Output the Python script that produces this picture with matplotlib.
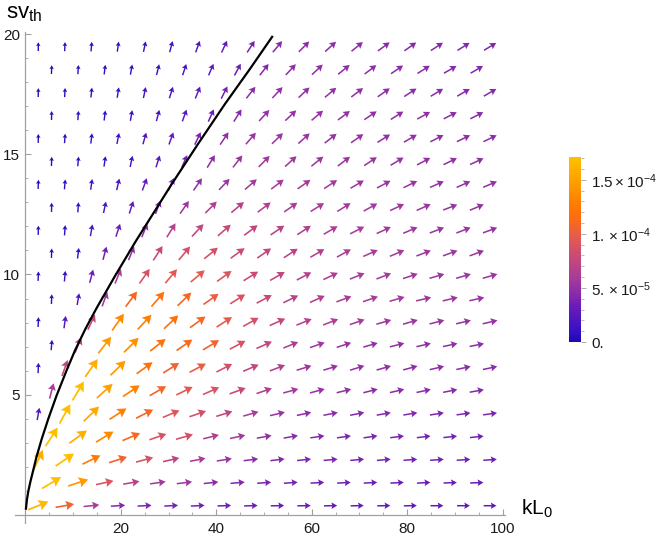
import numpy as np
import matplotlib.pyplot as plt
from matplotlib.colors import LinearSegmentedColormap, Normalize
from matplotlib.cm import ScalarMappable
from matplotlib.ticker import MultipleLocator, FixedLocator

plt.rcParams['font.family'] = ['Liberation Sans', 'DejaVu Sans']
plt.rcParams['mathtext.fontset'] = 'custom'
plt.rcParams['mathtext.rm'] = 'Liberation Sans'
plt.rcParams['mathtext.it'] = 'Liberation Sans'

# sample grid (staggered rows, like Mathematica's VectorPoints)
y_rows = 0.37 + 0.956 * np.arange(21)
x_even = 2.68 + 5.57 * np.arange(18)
x_odd = 5.47 + 5.57 * np.arange(17)

# arrow direction on screen (deg) and magnitude (x1e-5), row by row from the bottom
a00 = [22, 10, 6, 4, 3, 3, 3, 2, 2, 1, 1, 1, 1, 1, 1, 0, 0, 0]
m00 = [16.5, 10.5, 6.0, 4.2, 3.9, 3.7, 3.6, 3.5, 3.4, 3.3, 3.2, 3.1, 3.0, 2.9, 2.9, 2.8, 2.8, 2.7]
a01 = [31, 18, 12, 10, 8, 7, 6, 5, 4, 4, 3, 3, 3, 3, 3, 2, 2]
m01 = [17.0, 14.5, 9.0, 7.0, 5.8, 5.5, 4.6, 4.2, 3.9, 3.7, 3.6, 3.5, 3.4, 3.3, 3.3, 3.2, 3.2]
a02 = [65, 34, 26, 18, 15, 13, 11, 9, 7, 7, 6, 5, 5, 5, 4, 4, 4, 4]
m02 = [16.0, 17.0, 12.5, 10.5, 8.8, 7.2, 6.0, 5.3, 4.6, 4.2, 4.0, 3.9, 3.8, 3.7, 3.6, 3.5, 3.5, 3.4]
a03 = [57, 36, 31, 23, 19, 16, 14, 12, 10, 10, 8, 8, 8, 7, 7, 6, 6]
m03 = [17.0, 16.0, 13.5, 11.0, 8.8, 8.5, 6.5, 5.8, 5.0, 4.5, 4.2, 4.0, 3.9, 3.8, 3.7, 3.6, 3.6]
a04 = [80, 61, 44, 33, 27, 23, 19, 17, 16, 13, 12, 11, 11, 10, 9, 9, 8, 8]
m04 = [2.5, 17.0, 15.5, 13.0, 11.0, 9.2, 8.5, 7.4, 6.0, 5.3, 4.6, 4.5, 4.3, 4.2, 4.1, 4.0, 3.9, 3.9]
a05 = [75, 59, 42, 34, 30, 26, 24, 20, 19, 15, 15, 14, 14, 13, 12, 11, 10]
m05 = [6.0, 17.0, 15.0, 13.0, 10.8, 9.5, 8.8, 7.8, 6.5, 5.8, 5.2, 5.0, 4.7, 4.6, 4.5, 4.4, 4.3]
a06 = [88, 70, 55, 44, 36, 32, 28, 27, 23, 21, 17, 17, 17, 16, 15, 13, 12, 12]
m06 = [1.0, 7.5, 16.0, 14.5, 12.0, 10.5, 10.0, 8.6, 7.4, 6.5, 5.6, 5.2, 5.0, 4.9, 4.8, 4.7, 4.6, 4.5]
a07 = [85, 68, 52, 45, 38, 35, 31, 28, 24, 22, 19, 18, 16, 14, 13, 12, 11]
m07 = [1.0, 7.0, 14.5, 14.0, 12.0, 11.2, 10.5, 8.8, 7.5, 6.2, 5.6, 5.2, 5.0, 4.9, 4.8, 4.7, 4.6]
a08 = [88, 82, 65, 55, 47, 43, 36, 33, 29, 24, 22, 21, 19, 16, 16, 14, 13, 13]
m08 = [0.8, 2.5, 7.5, 13.5, 13.0, 12.0, 11.0, 9.8, 8.6, 7.6, 6.8, 6.4, 5.8, 5.6, 5.4, 5.3, 5.2, 5.1]
a09 = [88, 80, 70, 53, 49, 44, 35, 32, 28, 26, 24, 20, 19, 16, 13, 13, 12]
m09 = [0.7, 2.0, 5.5, 11.0, 12.0, 11.0, 10.0, 8.8, 7.8, 7.0, 6.5, 6.2, 6.0, 5.8, 5.6, 5.5, 5.4]
a10 = [88, 85, 75, 68, 55, 50, 40, 36, 32, 30, 28, 25, 22, 21, 18, 16, 16, 16]
m10 = [0.6, 1.2, 3.5, 6.0, 8.8, 9.5, 9.6, 9.0, 8.0, 7.5, 6.8, 6.3, 6.0, 5.8, 5.6, 5.5, 5.4, 5.3]
a11 = [88, 83, 75, 68, 57, 50, 39, 36, 35, 33, 30, 29, 24, 23, 21, 20, 20]
m11 = [0.6, 1.2, 3.5, 4.8, 7.8, 8.6, 8.6, 8.0, 7.5, 7.0, 6.5, 6.2, 6.0, 5.8, 5.6, 5.4, 5.3]
a12 = [89, 86, 80, 72, 68, 58, 47, 41, 37, 34, 33, 30, 27, 25, 23, 21, 21, 20]
m12 = [0.5, 1.0, 2.0, 3.5, 4.8, 6.8, 7.5, 7.8, 7.4, 7.0, 6.6, 6.3, 6.0, 5.8, 5.6, 5.4, 5.3, 5.2]
a13 = [89, 86, 78, 72, 70, 55, 45, 40, 37, 35, 32, 32, 29, 25, 24, 21, 23]
m13 = [0.5, 0.9, 1.8, 3.0, 3.8, 5.5, 6.6, 6.9, 6.6, 6.3, 6.1, 5.9, 5.7, 5.5, 5.4, 5.2, 5.1]
a14 = [88, 85, 82, 77, 70, 65, 55, 46, 41, 37, 35, 33, 30, 28, 26, 24, 24, 23]
m14 = [0.5, 0.8, 1.3, 2.0, 3.0, 3.8, 4.8, 5.4, 5.8, 5.9, 5.8, 5.7, 5.5, 5.4, 5.3, 5.1, 5.0, 4.9]
a15 = [88, 85, 82, 78, 72, 66, 58, 52, 45, 42, 39, 37, 34, 31, 28, 26, 25]
m15 = [0.5, 0.7, 1.1, 1.7, 2.4, 3.5, 4.6, 5.3, 5.6, 5.6, 5.5, 5.4, 5.3, 5.1, 5.0, 4.9, 4.8]
a16 = [89, 86, 83, 79, 74, 70, 64, 56, 49, 44, 42, 38, 35, 32, 30, 27, 26, 26]
m16 = [0.4, 0.6, 1.0, 1.5, 2.1, 2.8, 3.8, 4.9, 5.3, 5.4, 5.3, 5.2, 5.1, 5.0, 4.9, 4.8, 4.7, 4.6]
a17 = [89, 86, 83, 80, 75, 70, 66, 58, 47, 43, 40, 37, 34, 32, 29, 27, 27]
m17 = [0.4, 0.55, 0.9, 1.3, 1.8, 2.5, 3.3, 4.4, 5.0, 5.1, 5.1, 5.0, 4.9, 4.8, 4.7, 4.6, 4.5]
a18 = [89, 87, 84, 81, 78, 73, 68, 63, 52, 47, 43, 40, 37, 35, 33, 31, 30, 30]
m18 = [0.4, 0.5, 0.8, 1.1, 1.5, 2.1, 2.8, 3.6, 4.6, 4.9, 4.9, 4.9, 4.8, 4.7, 4.6, 4.5, 4.4, 4.4]
a19 = [88, 86, 83, 80, 76, 72, 67, 62, 52, 47, 43, 39, 37, 34, 32, 30, 30]
m19 = [0.35, 0.5, 0.7, 1.0, 1.4, 1.9, 2.5, 3.2, 4.2, 4.7, 4.8, 4.8, 4.7, 4.6, 4.5, 4.4, 4.3]
a20 = [90, 88, 85, 82, 78, 75, 70, 65, 57, 50, 45, 42, 39, 36, 35, 33, 32, 31]
m20 = [0.35, 0.45, 0.65, 0.9, 1.2, 1.7, 2.2, 2.9, 3.7, 4.4, 4.6, 4.7, 4.6, 4.5, 4.4, 4.3, 4.2, 4.2]

angle_rows = [a00, a01, a02, a03, a04, a05, a06, a07, a08, a09, a10,
              a11, a12, a13, a14, a15, a16, a17, a18, a19, a20]
mag_rows = [m00, m01, m02, m03, m04, m05, m06, m07, m08, m09, m10,
            m11, m12, m13, m14, m15, m16, m17, m18, m19, m20]

# black threshold curve
curve_x = [0.1, 0.3, 0.6, 1.0, 1.5, 2.3, 3.4, 4.8, 6.5, 8.6, 10.4, 12.6, 14.9, 18.8,
           23.0, 26.8, 30.6, 36.2, 41.8, 47.0, 51.7]
curve_y = [0.25, 0.62, 0.98, 1.35, 1.75, 2.40, 3.15, 4.0, 4.95, 6.0, 6.85, 7.75, 8.6, 9.95,
           11.35, 12.55, 13.75, 15.45, 17.1, 18.55, 19.9]

mag_max = 17.1
cbar_ticks = [0, 5, 10, 15]
cbar_labels = ['0.', r'$\mathregular{5.\times10^{-5}}$', r'$\mathregular{1.\times10^{-4}}$',
               r'$\mathregular{1.5\times10^{-4}}$']

cmap = LinearSegmentedColormap.from_list('mma', [
    (0.0, '#1c0ab0'), (0.05, '#3210c4'), (0.12, '#4e16c0'), (0.19, '#6a1cb8'), (0.263, '#8a2ca8'),
    (0.35, '#a83c98'), (0.456, '#c84878'), (0.556, '#e05a55'), (0.67, '#ff6a10'),
    (0.76, '#ff8000'), (0.85, '#ff9a00'), (0.94, '#ffb000'), (1.0, '#ffc000')])
norm = Normalize(0, mag_max)

fig = plt.figure(figsize=(6.59, 5.37), dpi=100)
ax = fig.add_axes([15 / 659, 14 / 537, 490 / 659, 491 / 537])
ax.set_xlim(-2.2, 100.5)
ax.set_ylim(-0.35, 20.1)

for j, y in enumerate(y_rows):
    xs = x_even if j % 2 == 0 else x_odd
    for x, a, m in zip(xs, angle_rows[j], mag_rows[j]):
        L = 6.5 + 3.8 * np.sqrt(m)   # arrow length in pixels
        th = np.deg2rad(a)
        w = 1.1 + 0.03 * L
        ax.quiver(x, y, L * np.cos(th), L * np.sin(th), color=cmap(norm(m)),
                  angles='uv', scale_units='dots', scale=1, units='dots',
                  pivot='middle', width=w, headwidth=0.5 * L / w,
                  headlength=0.44 * L / w, headaxislength=0.38 * L / w, zorder=2)

ax.plot(curve_x, curve_y, color='black', lw=1.6, zorder=3, solid_joinstyle='round')

# Mathematica-like axes
for s in ['top', 'right']:
    ax.spines[s].set_visible(False)
ax.spines['left'].set_position(('data', 0))
ax.spines['bottom'].set_position(('data', 0))
for s in ['left', 'bottom']:
    ax.spines[s].set_color('#a0a0a0')
    ax.spines[s].set_linewidth(0.9)
ax.xaxis.set_major_locator(FixedLocator([20, 40, 60, 80, 100]))
ax.xaxis.set_minor_locator(MultipleLocator(5))
ax.yaxis.set_major_locator(FixedLocator([5, 10, 15, 20]))
ax.yaxis.set_minor_locator(MultipleLocator(1))
ax.tick_params(which='both', direction='in', color='#a0a0a0', labelsize=11, labelcolor='#1a1a1a')
ax.tick_params(which='major', length=4.5, width=0.8)
ax.tick_params(which='minor', length=2.5, width=0.6)
ax.tick_params(axis='x', pad=5)
ax.tick_params(axis='y', pad=4)

fig.text(521 / 659, (537 - 515) / 537, r'$\mathregular{kL_0}$', fontsize=15, va='baseline', ha='left')
fig.text(6 / 659, (537 - 18) / 537, r'$\mathregular{sv_{th}}$', fontsize=16, va='baseline', ha='left')

cax = fig.add_axes([569 / 659, (537 - 342) / 537, 12 / 659, 185 / 537])
cb = fig.colorbar(ScalarMappable(norm=norm, cmap=cmap), cax=cax)
cb.set_ticks(cbar_ticks)
cb.set_ticklabels(cbar_labels)
cb.ax.yaxis.set_minor_locator(MultipleLocator(1))
cb.outline.set_visible(False)
cb.ax.tick_params(which='both', direction='out', color='#a0a0a0', labelsize=11, labelcolor='#1a1a1a', pad=4)
cb.ax.tick_params(which='major', length=3.5, width=0.6)
cb.ax.tick_params(which='minor', length=2.5, width=0.5)

fig.savefig('out.png', dpi=100)
